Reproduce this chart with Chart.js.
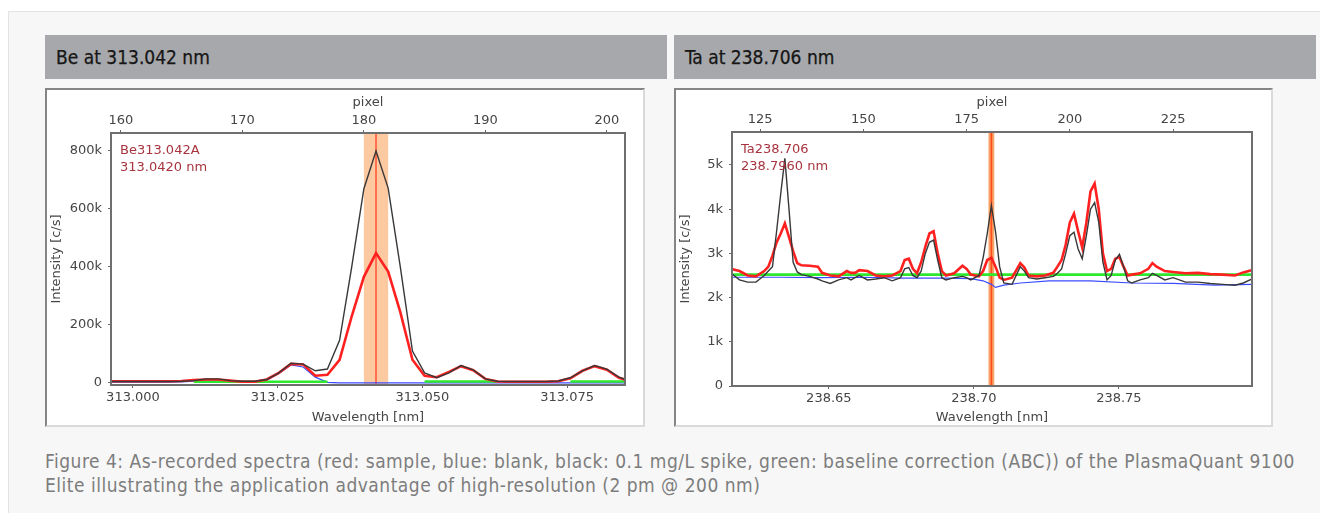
<!DOCTYPE html>
<html>
<head>
<meta charset="utf-8">
<script src="https://cdn.jsdelivr.net/npm/chart.js@4.4.1/dist/chart.umd.min.js"></script>
<style>
  body { margin: 0; width: 1320px; height: 513px; overflow: hidden; position: relative; background: #fff;
         font-family: "DejaVu Sans Condensed", "DejaVu Sans", sans-serif; font-stretch: condensed; }
  #frame { position: absolute; left: 8px; top: 11px; width: 1330px; height: 520px; background: #f7f7f7;
           border-top: 1px solid #e3e3e3; border-left: 1px solid #e3e3e3; }
  .head { position: absolute; top: 35px; height: 44px; background: #a7a8ab; color: #161616; font-size: 19px;
          line-height: 44px; padding-left: 11px; box-sizing: border-box; -webkit-text-stroke: 0.25px #161616; }
  .img { position: absolute; top: 88px; height: 339px; background: #fff; box-sizing: border-box;
         border: 2px solid #dadada; border-top-color: #858585; border-left-color: #858585; }
  .img canvas { display: block; }
  #caption { position: absolute; left: 45px; top: 449px; color: #7d7d7d; font-size: 19px; letter-spacing: 0.5px;
             line-height: 24px; white-space: nowrap; }
</style>
</head>
<body>
<div id="frame"></div>
<div class="head" style="left:45px;width:622px;">Be at 313.042 nm</div>
<div class="head" style="left:674px;width:642px;">Ta at 238.706 nm</div>
<div class="img" style="left:45px;width:600px;"><canvas id="beChart" width="596" height="335"></canvas></div>
<div class="img" style="left:674px;width:599px;"><canvas id="taChart" width="595" height="335"></canvas></div>
<div id="caption">Figure 4: As-recorded spectra (red: sample, blue: blank, black: 0.1 mg/L spike, green: baseline correction (ABC)) of the PlasmaQuant 9100<br>Elite illustrating the application advantage of high-resolution (2 pm @ 200 nm)</div>

<script>
// ---- Be 313.042 nm ----
const bePixel = [159, 160, 161, 162, 163, 164, 165, 166, 167, 168,
    169, 170, 171, 172, 173, 174, 175, 176, 177, 178,
    179, 180, 181, 182, 183, 184, 185, 186, 187, 188,
    189, 190, 191, 192, 193, 194, 195, 196, 197, 198,
    199, 200, 201, 202];
const beSpike = [5000, 5000, 5000, 5000, 5000, 5000, 6000, 8000, 14000, 14000,
    8000, 6000, 6000, 12000, 35000, 68000, 65000, 42000, 48000, 147000,
    400000, 670000, 800000, 672000, 400000, 110000, 35000, 18000, 35000, 60000,
    45000, 14000, 6000, 5000, 5000, 5000, 5000, 7000, 18000, 42000,
    60000, 48000, 20000, 5000];
const beSample = [6000, 6000, 6000, 6000, 6000, 6000, 7000, 10000, 12000, 12000,
    8000, 4000, 4000, 12000, 35000, 66000, 64000, 25000, 28000, 80000,
    230000, 366000, 448000, 384000, 244000, 80000, 25000, 20000, 38000, 58000,
    44000, 14000, 5000, 4000, 4000, 4000, 4000, 6000, 16000, 42000,
    58000, 46000, 18000, 5000];
const beBlank = [3000, 3000, 3000, 3000, 3000, 3000, 4000, 6000, 10000, 10000,
    6000, 3000, 3000, 10000, 33000, 62000, 55000, 20000, 2000, 0,
    0, 0, 0, 0, 0, 0, 0, 0, 0, 0,
    0, 0, 0, 0, 0, 0, 0, 0, 0, 0,
    0, 0, 0, 0];
const beBaseline = [null, null, null, null, null, null, null, 4000, 4000, 4000,
    4000, 4000, 4000, 4000, 4000, 4000, 4000, 4000, 4000, null,
    null, null, null, null, null, null, 5000, 5000, 5000, 5000,
    5000, 5000, 5000, null, null, null, null, null, 5000, 5000,
    5000, 5000, 5000, 5000];
const beYTicks = [0, 200000, 400000, 600000, 800000];
const bePixelTicks = [160, 170, 180, 190, 200];
const beWaveTicks = [313.000, 313.025, 313.050, 313.075];
const beWaveLabels = ['313.000', '313.025', '313.050', '313.075'];
const beBand = [180, 182];
const beLine = 181;

// ---- Ta 238.706 nm ----
const taPixel = [118, 120, 122, 124, 126, 127, 128, 129, 130, 131,
    132, 133, 134, 135, 137, 139, 140, 142, 144, 146,
    147, 148, 149, 151, 153, 155, 157, 159, 160, 161,
    162, 163, 164, 165, 166, 167, 168, 169, 170, 172,
    174, 175, 176, 178, 179, 180, 181, 182, 183, 184,
    186, 188, 189, 190, 192, 194, 196, 197, 198, 199,
    200, 201, 202, 203, 204, 205, 206, 207, 208, 209,
    210, 211, 212, 213, 214, 215, 217, 219, 220, 221,
    223, 225, 228, 231, 234, 237, 240, 242, 244];
const taSample = [2650, 2600, 2500, 2480, 2600, 2700, 2950, 3250, 3450, 3680,
    3370, 3050, 2780, 2730, 2720, 2700, 2560, 2500, 2480, 2600,
    2560, 2560, 2620, 2600, 2500, 2480, 2500, 2600, 2850, 2880,
    2650, 2550, 2800, 3150, 3450, 3500, 3000, 2600, 2500, 2550,
    2720, 2650, 2520, 2480, 2600, 2850, 2900, 2700, 2450, 2400,
    2450, 2780, 2680, 2500, 2480, 2500, 2560, 2700, 2850, 3200,
    3700, 3900, 3500, 3130, 3700, 4400, 4580, 4000, 3000, 2600,
    2650, 2880, 2920, 2700, 2500, 2520, 2550, 2650, 2780, 2700,
    2600, 2580, 2550, 2560, 2530, 2520, 2500, 2570, 2620];
const taSpike = [2550, 2400, 2350, 2350, 2500, 2600, 2700, 3500, 4350, 5150,
    4000, 2800, 2580, 2520, 2480, 2420, 2380, 2320, 2400, 2450,
    2400, 2450, 2500, 2400, 2420, 2450, 2380, 2450, 2650, 2680,
    2500, 2450, 2600, 3000, 3250, 3300, 2850, 2450, 2400, 2450,
    2480, 2450, 2400, 2500, 2900, 3450, 4080, 3500, 2700, 2330,
    2300, 2700, 2600, 2450, 2420, 2450, 2480, 2550, 2650, 3000,
    3400, 3480, 3100, 2880, 3400, 4000, 4150, 3700, 2800, 2400,
    2500, 2850, 2980, 2700, 2380, 2330, 2400, 2450, 2550, 2500,
    2400, 2450, 2350, 2350, 2320, 2300, 2280, 2330, 2420];
const taBlankPixel = [118, 130, 140, 150, 160, 170, 176, 179, 181, 182, 184, 188, 195, 205, 215, 225, 235, 244];
const taBlank = [2460, 2460, 2450, 2460, 2440, 2440, 2430, 2380, 2300, 2230, 2280, 2330, 2380, 2380, 2330, 2320, 2280, 2300];
const taBaselinePixel = [118, 244];
const taBaseline = [2520, 2520];
const taYTicks = [0, 1000, 2000, 3000, 4000, 5000];
const taPixelTicks = [125, 150, 175, 200, 225];
const taWaveTicks = [238.65, 238.70, 238.75];
const taWaveLabels = ['238.65', '238.70', '238.75'];
const taBand = [180.3, 181.7];
const taLine = 181;

Chart.defaults.font.family = 'DejaVu Sans';
Chart.defaults.font.size = 13;
Chart.defaults.color = '#454545';

function series(px, vals) {
    return px.map((p, i) => ({ x: p, y: vals[i] }));
}

const spectrumDecor = {
    id: 'spectrumDecor',
    beforeDatasetsDraw(chart, args, opts) {
        const { ctx, chartArea: a } = chart;
        const px = chart.scales.px;
        ctx.save();
        ctx.beginPath();
        ctx.rect(a.left, a.top, a.width, a.height);
        ctx.clip();
        const x0 = px.getPixelForValue(opts.band[0]);
        const x1 = px.getPixelForValue(opts.band[1]);
        ctx.fillStyle = opts.bandColor;
        ctx.fillRect(x0, a.top, x1 - x0, a.height);
        const xc = px.getPixelForValue(opts.line);
        ctx.strokeStyle = opts.lineColor;
        ctx.lineWidth = 1.6;
        ctx.beginPath();
        ctx.moveTo(xc, a.top);
        ctx.lineTo(xc, a.bottom);
        ctx.stroke();
        ctx.restore();
    },
    afterDraw(chart, args, opts) {
        const { ctx, chartArea: a } = chart;
        ctx.save();
        ctx.strokeStyle = '#6f6f6f';
        ctx.lineWidth = 2;
        ctx.strokeRect(a.left, a.top, a.width, a.height);
        ctx.fillStyle = '#a8343f';
        ctx.font = '13px "DejaVu Sans"';
        ctx.textBaseline = 'middle';
        ctx.fillText(opts.note[0], a.left + 9, a.top + 18);
        ctx.fillText(opts.note[1], a.left + 9, a.top + 35);
        ctx.restore();
    }
};

function makeChart(id, c) {
    const axisGrid = { drawOnChartArea: false, drawTicks: true, tickLength: 3, color: '#666' };
    return new Chart(document.getElementById(id), {
        type: 'line',
        data: {
            datasets: [
                { label: 'spike', data: c.spike, borderColor: '#383838', borderWidth: 1.4, order: 0 },
                { label: 'sample', data: c.sample, borderColor: '#ff2020', borderWidth: 2.6, order: 1 },
                { label: 'baseline', data: c.baseline, borderColor: '#2ee82e', borderWidth: 2.6, order: 2 },
                { label: 'blank', data: c.blank, borderColor: '#3b4cff', borderWidth: 1.2, order: 3 }
            ].map(d => Object.assign(d, { xAxisID: 'px', yAxisID: 'y', pointRadius: 0, tension: 0, fill: false }))
        },
        options: {
            responsive: false,
            animation: false,
            events: [],
            layout: { padding: { left: 0, top: 0, bottom: 0, right: c.pad.right } },
            plugins: {
                legend: { display: false },
                tooltip: { enabled: false },
                spectrumDecor: { band: c.band, line: c.line, bandColor: c.bandColor, lineColor: c.lineColor, note: c.note }
            },
            scales: {
                px: {
                    type: 'linear', position: 'top', min: c.pxMin, max: c.pxMax,
                    afterBuildTicks: s => { s.ticks = c.pxTicks.map(v => ({ value: v })); },
                    afterFit: s => { s.height = c.pad.top; },
                    ticks: { padding: 2, maxRotation: 0, autoSkip: false, callback: v => String(v) },
                    grid: axisGrid, border: { display: false },
                    title: { display: true, text: 'pixel', padding: { top: 5, bottom: 0 } }
                },
                wl: {
                    type: 'linear', position: 'bottom', min: c.wlMin, max: c.wlMax,
                    afterBuildTicks: s => { s.ticks = c.wlTicks.map(v => ({ value: v })); },
                    afterFit: s => { s.height = c.pad.bottom; },
                    ticks: { padding: 2, maxRotation: 0, autoSkip: false, callback: (v, i) => c.wlLabels[i] },
                    grid: axisGrid, border: { display: false },
                    title: { display: true, text: 'Wavelength [nm]', padding: { top: 0, bottom: 0 } }
                },
                y: {
                    type: 'linear', position: 'left', min: c.yMin, max: c.yMax,
                    afterBuildTicks: s => { s.ticks = c.yTicks.map(v => ({ value: v })); },
                    afterFit: s => { s.width = c.pad.left; },
                    ticks: { padding: 6, autoSkip: false, callback: v => v === 0 ? '0' : (v / 1000) + 'k' },
                    grid: axisGrid, border: { display: false },
                    title: { display: true, text: 'Intensity [c/s]', padding: { top: 2, bottom: 0 } }
                }
            }
        },
        plugins: [spectrumDecor]
    });
}

makeChart('beChart', {
    spike: series(bePixel, beSpike),
    sample: series(bePixel, beSample),
    baseline: series(bePixel, beBaseline),
    blank: series(bePixel, beBlank),
    pxMin: 159.18, pxMax: 201.5, pxTicks: bePixelTicks,
    wlMin: 312.9962, wlMax: 313.0850, wlTicks: beWaveTicks, wlLabels: beWaveLabels,
    yMin: -7000, yMax: 862000, yTicks: beYTicks,
    band: beBand, line: beLine, bandColor: '#fdc9a0', lineColor: '#ff5a3a',
    note: ['Be313.042A', '313.0420 nm'],
    pad: { left: 64, right: 18, top: 43, bottom: 40 }
});

makeChart('taChart', {
    spike: series(taPixel, taSpike),
    sample: series(taPixel, taSample),
    baseline: series(taBaselinePixel, taBaseline),
    blank: series(taBlankPixel, taBlank),
    pxMin: 118.2, pxMax: 244.1, pxTicks: taPixelTicks,
    wlMin: 238.6166, wlMax: 238.7959, wlTicks: taWaveTicks, wlLabels: taWaveLabels,
    yMin: 0, yMax: 5746, yTicks: taYTicks,
    band: taBand, line: taLine, bandColor: '#f8a468', lineColor: '#ff4a1a',
    note: ['Ta238.706', '238.7960 nm'],
    pad: { left: 56, right: 19, top: 42, bottom: 39 }
});
</script>
</body>
</html>
